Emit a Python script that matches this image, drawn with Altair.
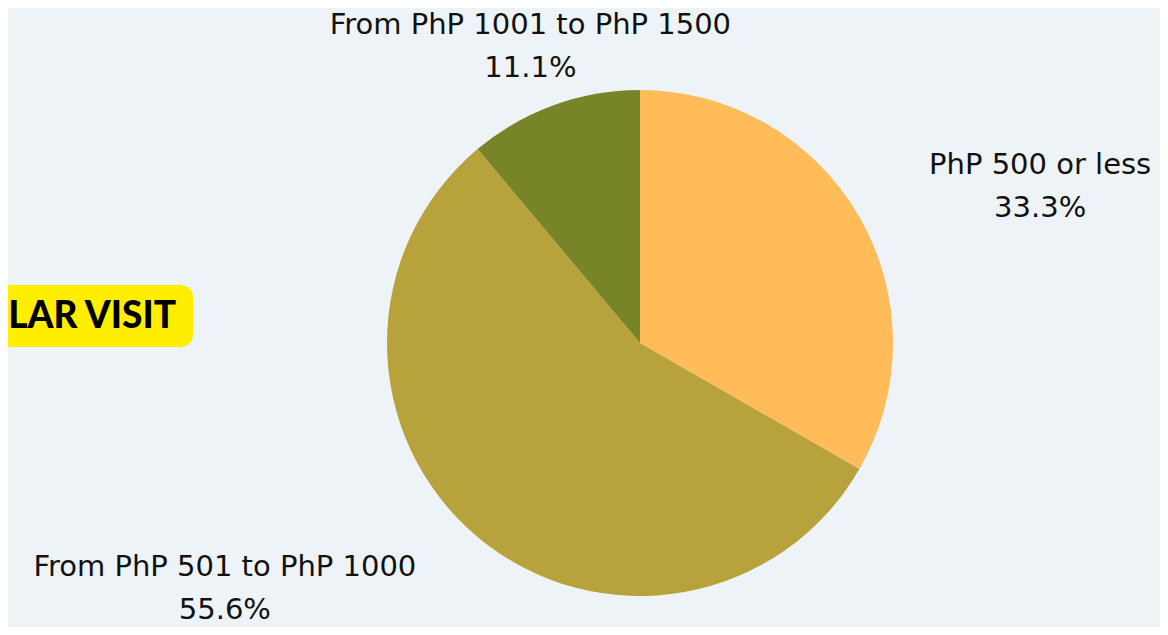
import altair as alt
import pandas as pd

categories = ["PhP 500 or less", "From PhP 501 to PhP 1000", "From PhP 1001 to PhP 1500"]
values = [33.3, 55.6, 11.1]
colors = ["#FFBC59", "#B8A23B", "#788428"]
order = [1, 2, 3]

df = pd.DataFrame({
    "category": categories,
    "value": values,
    "order": order,
    "label": [f"{c}\n{v:.1f}%" for c, v in zip(categories, values)],
})

W, H = 1152, 619
CX, CY, R = 632, 335, 253
FONT = "DejaVu Sans"

pie = alt.Chart(df).mark_arc(outerRadius=R, stroke=None).encode(
    theta=alt.Theta("value:Q", stack=True),
    order=alt.Order("order:Q"),
    x=alt.value(CX), y=alt.value(CY),
    color=alt.Color("category:N", scale=alt.Scale(domain=categories, range=colors), legend=None),
)

# per-label placement (radius, dx, dy)
placements = {
    categories[0]: (430, 28, 37),
    categories[1]: (430, -139, -106),
    categories[2]: (315, -2, -22),
}
label_layers = []
for cat, (rad, dx, dy) in placements.items():
    label_layers.append(
        alt.Chart(df)
        .transform_window(cum="sum(value)", sort=[alt.SortField("order")],
                          frame=[None, 0])
        .transform_calculate(mid="datum.cum - datum.value / 2")
        .transform_filter(alt.datum.category == cat)
        .mark_text(radius=rad, dx=dx, dy=dy, font=FONT, fontSize=29,
                   color="#111111", lineBreak="\n", lineHeight=43,
                   align="center", baseline="middle")
        .encode(
            theta=alt.Theta("mid:Q", scale=alt.Scale(domain=[0, sum(values)], range=[0, 6.2832])),
            x=alt.value(CX), y=alt.value(CY), text="label:N",
        )
    )

badge = alt.Chart(pd.DataFrame({"t": ["LAR VISIT"]})).mark_rect(
    color="#FFEE00", cornerRadius=12
).encode(x=alt.value(-30), x2=alt.value(185), y=alt.value(277), y2=alt.value(339))

badge_text = alt.Chart(pd.DataFrame({"t": ["LAR VISIT"]})).mark_text(
    font="Lato", fontSize=37, fontWeight=900, color="#000000", align="right", baseline="middle"
).encode(x=alt.value(168), y=alt.value(309), text="t:N")

chart = alt.layer(badge, badge_text, pie, *label_layers).properties(
    width=W, height=H, autosize=alt.AutoSizeParams(type="none"), padding=0,
    background="#EEF3F8",
).configure_view(stroke=None)

chart.save("out.html", embed_options={"renderer": "svg", "actions": False})
